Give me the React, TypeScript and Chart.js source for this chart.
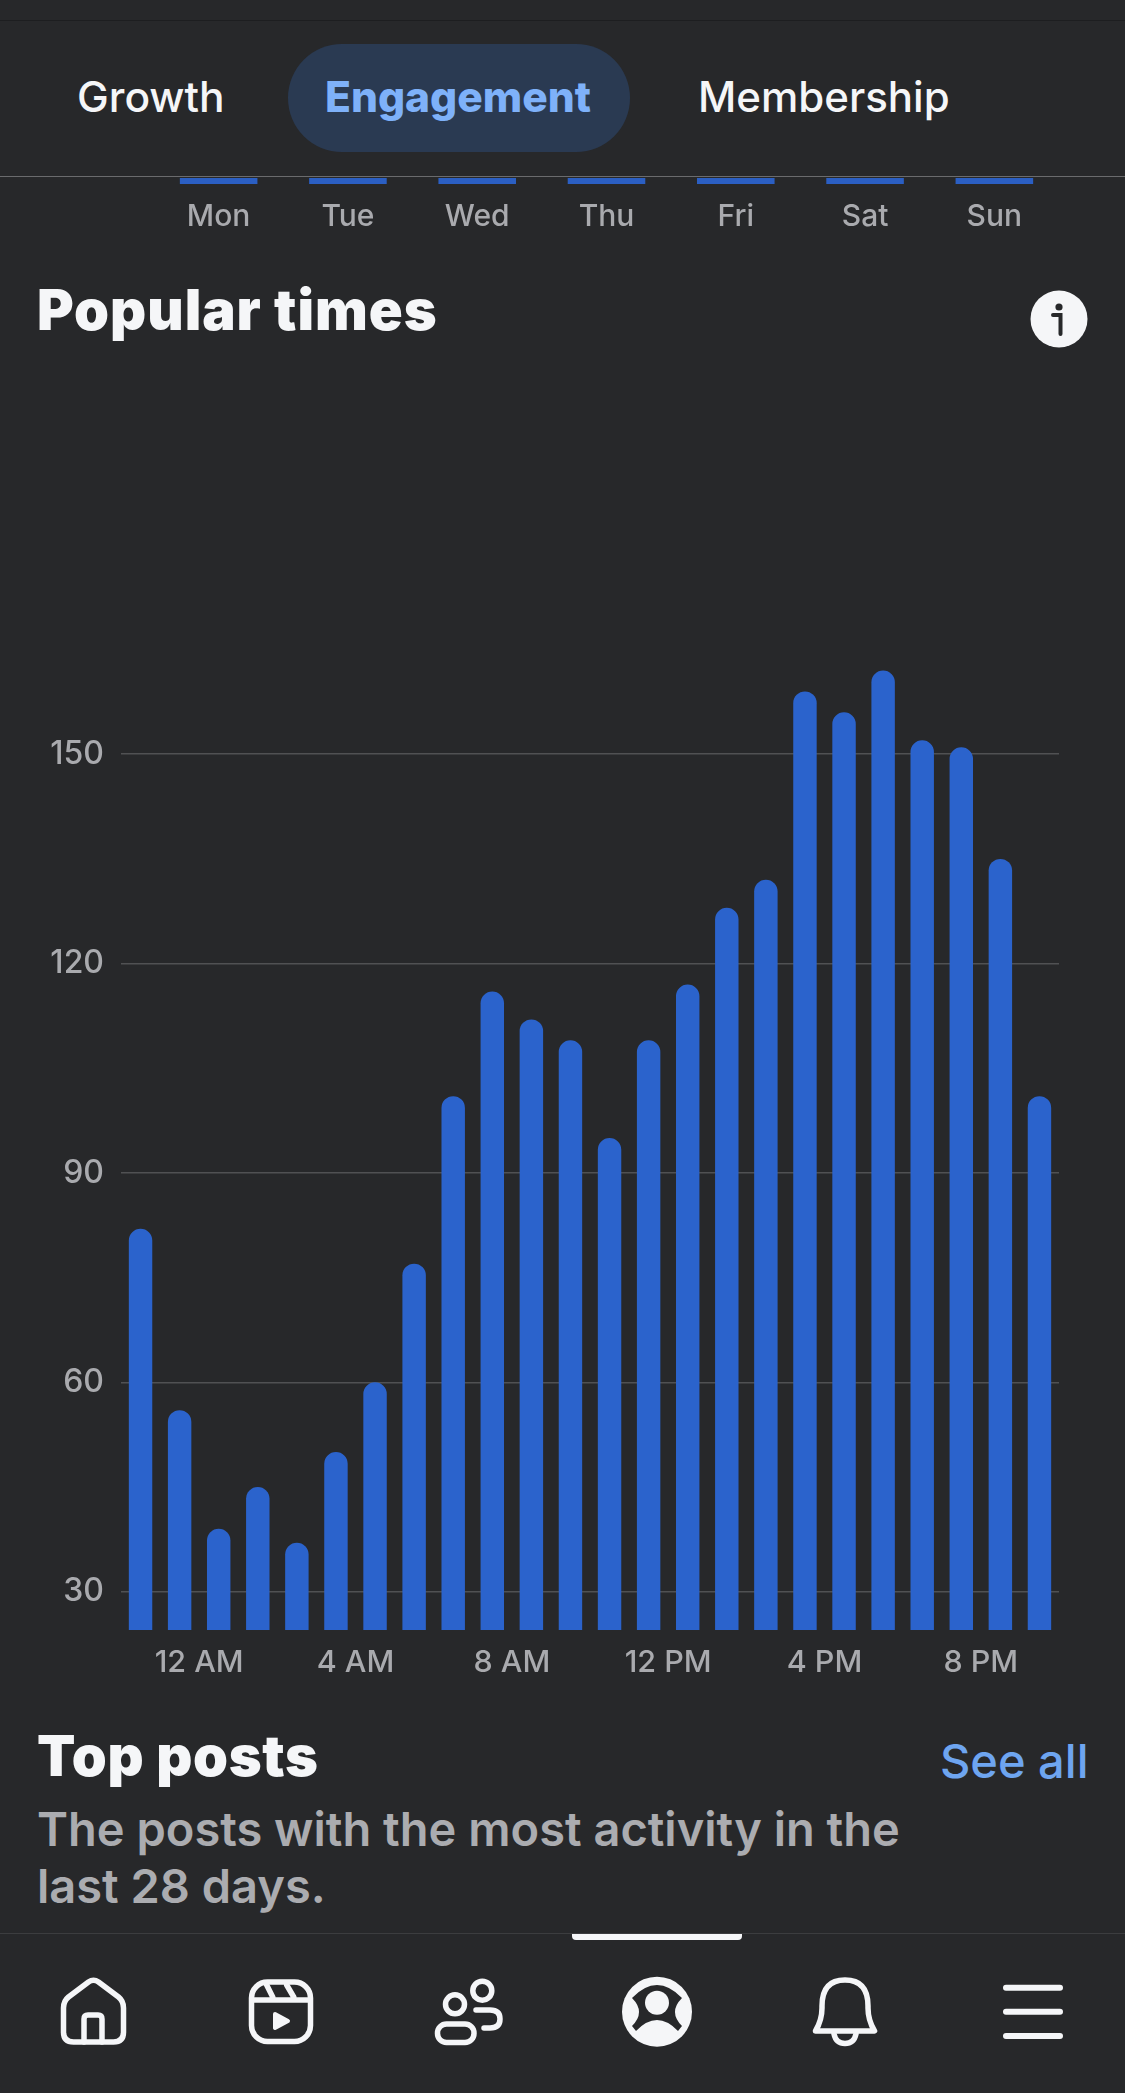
import React, { useEffect, useRef } from "react";
import { Chart, registerables } from "chart.js";

Chart.register(...registerables);

const hourLabels = ["10 PM", "11 PM", "12 AM", "1 AM", "2 AM", "3 AM", "4 AM", "5 AM", "6 AM", "7 AM", "8 AM", "9 AM", "10 AM", "11 AM", "12 PM", "1 PM", "2 PM", "3 PM", "4 PM", "5 PM", "6 PM", "7 PM", "8 PM", "9 PM"];
const hourValues = [82, 56, 39, 45, 37, 50, 60, 77, 101, 116, 112, 109, 95, 109, 117, 128, 132, 159, 156, 162, 152, 151, 135, 101];
const shownHours = ["12 AM", "4 AM", "8 AM", "12 PM", "4 PM", "8 PM"];
const yTickValues = [30, 60, 90, 120, 150];
const dayLabels = ["Mon", "Tue", "Wed", "Thu", "Fri", "Sat", "Sun"];
const dayValues = [1, 1, 1, 1, 1, 1, 1];

const FONT = "Inter, 'Noto Sans', sans-serif";
const BG = "#27282a";
const BLUE = "#2b63cc";
const GREY = "#a9aaae";
const WHITE = "#f5f6f8";

const text = (style: React.CSSProperties): React.CSSProperties => ({
  position: "absolute",
  whiteSpace: "nowrap",
  fontFamily: FONT,
  lineHeight: 1,
  ...style,
});

export default function App() {
  const hourRef = useRef<HTMLCanvasElement>(null);
  const dayRef = useRef<HTMLCanvasElement>(null);

  useEffect(() => {
    const hourChart = new Chart(hourRef.current!, {
      type: "bar",
      data: {
        labels: hourLabels,
        datasets: [
          {
            data: hourValues,
            backgroundColor: BLUE,
            barPercentage: 0.6,
            categoryPercentage: 1,
            borderRadius: { topLeft: 12, topRight: 12, bottomLeft: 0, bottomRight: 0 },
            borderSkipped: false,
          },
        ],
      },
      options: {
        animation: false,
        responsive: false,
        devicePixelRatio: 1,
        layout: { padding: { top: 0, right: 66, bottom: 0, left: 0 } },
        plugins: { legend: { display: false }, tooltip: { enabled: false } },
        scales: {
          x: {
            afterFit: (s: any) => { s.height = 70; },
            grid: { display: false, drawTicks: false },
            border: { display: false },
            ticks: {
              autoSkip: false,
              maxRotation: 0,
              minRotation: 0,
              padding: 15,
              labelOffset: -19.55,
              color: GREY,
              font: { family: FONT, size: 30.5, weight: 500 },
              callback(this: any, v: any) {
                const l = this.getLabelForValue(v);
                return shownHours.includes(l) ? l : "";
              },
            },
          },
          y: {
            min: 24.5,
            max: 209.9,
            afterFit: (s: any) => { s.width = 121; },
            afterBuildTicks: (s: any) => { s.ticks = yTickValues.map((value) => ({ value })); },
            grid: { color: "#505153", lineWidth: 1.5, drawTicks: false },
            border: { display: false },
            ticks: {
              padding: 17,
              color: GREY,
              font: { family: FONT, size: 32, weight: 500 },
            },
          },
        },
      },
    });

    const dayChart = new Chart(dayRef.current!, {
      type: "bar",
      data: {
        labels: dayLabels,
        datasets: [
          {
            data: dayValues,
            backgroundColor: "#2b5fc3",
            barPercentage: 0.6,
            categoryPercentage: 1,
          },
        ],
      },
      options: {
        animation: false,
        responsive: false,
        devicePixelRatio: 1,
        layout: { padding: { top: 0, right: 66, bottom: 0, left: 0 } },
        plugins: { legend: { display: false }, tooltip: { enabled: false } },
        scales: {
          x: {
            afterFit: (s: any) => { s.height = 64; },
            grid: { display: false, drawTicks: false },
            border: { display: false },
            ticks: {
              maxRotation: 0,
              padding: 15,
              color: GREY,
              font: { family: FONT, size: 30, weight: 500 },
            },
          },
          y: {
            min: 0,
            max: 1,
            afterFit: (s: any) => { s.width = 154; },
            display: true,
            grid: { display: false, drawTicks: false },
            border: { display: false },
            ticks: { display: false },
          },
        },
      },
    });

    return () => {
      hourChart.destroy();
      dayChart.destroy();
    };
  }, []);

  return (
    <div style={{ position: "absolute", left: 0, top: 0, width: 1125, height: 2093, background: BG, overflow: "hidden" }}>
      <div style={{ position: "absolute", left: 0, top: 20, width: 1125, height: 1, background: "#1d1e20" }} />
      <div style={{ position: "absolute", left: 288, top: 44, width: 342, height: 108, borderRadius: 54, background: "#2a3a52" }} />
      <div style={text({ left: 77, top: 76, fontSize: 42.5, fontWeight: 500, color: WHITE })}>Growth</div>
      <div style={text({ left: 325, top: 76, fontSize: 42.5, fontWeight: 800, color: "#7eb1f9" })}>Engagement</div>
      <div style={text({ left: 698, top: 76, fontSize: 42, fontWeight: 500, color: WHITE })}>Membership</div>
      <div style={{ position: "absolute", left: 0, top: 176, width: 1125, height: 1, background: "#6a6b6d" }} />

      <canvas ref={dayRef} width={1125} height={70} style={{ position: "absolute", left: 0, top: 178, width: 1125, height: 70 }} />

      <div style={text({ left: 37, top: 282, fontSize: 56, fontWeight: 900, letterSpacing: 1, color: WHITE })}>Popular times</div>
      <svg style={{ position: "absolute", left: 1030, top: 290 }} width={58} height={58} viewBox="0 0 58 58">
        <circle cx={29} cy={29} r={28.5} fill={WHITE} />
        <circle cx={29} cy={17} r={3.6} fill={BG} />
        <path d="M23 25h7.5v19" fill="none" stroke={BG} strokeWidth={4} strokeLinecap="round" />
      </svg>

      <canvas ref={hourRef} width={1125} height={1400} style={{ position: "absolute", left: 0, top: 300, width: 1125, height: 1400 }} />

      <div style={text({ left: 37, top: 1728, fontSize: 56, fontWeight: 900, letterSpacing: 0.7, color: WHITE })}>Top posts</div>
      <div style={text({ left: 940, top: 1737, fontSize: 47, fontWeight: 500, color: "#6ea5f0" })}>See all</div>
      <div style={text({ left: 37, top: 1805, fontSize: 47, fontWeight: 600, color: "#abacb0" })}>The posts with the most activity in the</div>
      <div style={text({ left: 37, top: 1862, fontSize: 47, fontWeight: 600, color: "#abacb0" })}>last 28 days.</div>

      <div style={{ position: "absolute", left: 0, top: 1933, width: 1125, height: 1, background: "#3c3d3f" }} />
      <div style={{ position: "absolute", left: 572, top: 1934, width: 170, height: 6, borderRadius: "0 0 4px 4px", background: WHITE }} />

      <svg style={{ position: "absolute", left: 0, top: 1960 }} width={1125} height={100} viewBox="0 1960 1125 100" fill="none" stroke={WHITE} strokeWidth={5.5} strokeLinecap="round" strokeLinejoin="round">
        <path d="M63.5 2008 q0-7 5-11 l20-15 q5-3.5 10 0 l20 15 q5 4 5 11 v24 q0 10-10 10 h-40 q-10 0-10-10 z" />
        <path d="M84 2042 v-23 q0-4 4-4 h10 q4 0 4 4 v23" />
        <rect x={251.5} y={1982} width={59} height={59.5} rx={16} />
        <path d="M252 2000 h58 M266.7 1985 l6 12 M286.7 1985 l7 12" />
        <path d="M275 2014 l13 7 -13 7z" fill={WHITE} strokeWidth={4} />
        <circle cx={455} cy={2004.3} r={9.5} />
        <circle cx={482.3} cy={1990.7} r={9.5} />
        <rect x={437.5} y={2024} width={36.5} height={18.5} rx={9} />
        <path d="M476 2010 h14 q10 0 10 9 q0 9-10 9 h-6" />
        <circle cx={657} cy={2011.7} r={35} fill={WHITE} stroke="none" />
        <path d="M632 1998 Q657 1972 682 1998 Q668 2012 682 2026 L678 2031 Q657 2009 636 2031 L632 2026 Q646 2012 632 1998z" fill={BG} stroke="none" />
        <circle cx={657} cy={2002.7} r={12} fill={WHITE} stroke="none" />
        <path d="M815.5 2031 Q822 2020 822 2008 V2006 Q822 1980 845 1980 Q868 1980 868 2006 V2008 Q868 2020 874.5 2031 Z" />
        <path d="M834 2034 Q836 2043.5 845 2043.5 Q854 2043.5 856 2034" />
        <path d="M1006 1987.7 h54 M1006 2011.7 h54 M1006 2036 h54" strokeWidth={6} />
      </svg>
    </div>
  );
}
